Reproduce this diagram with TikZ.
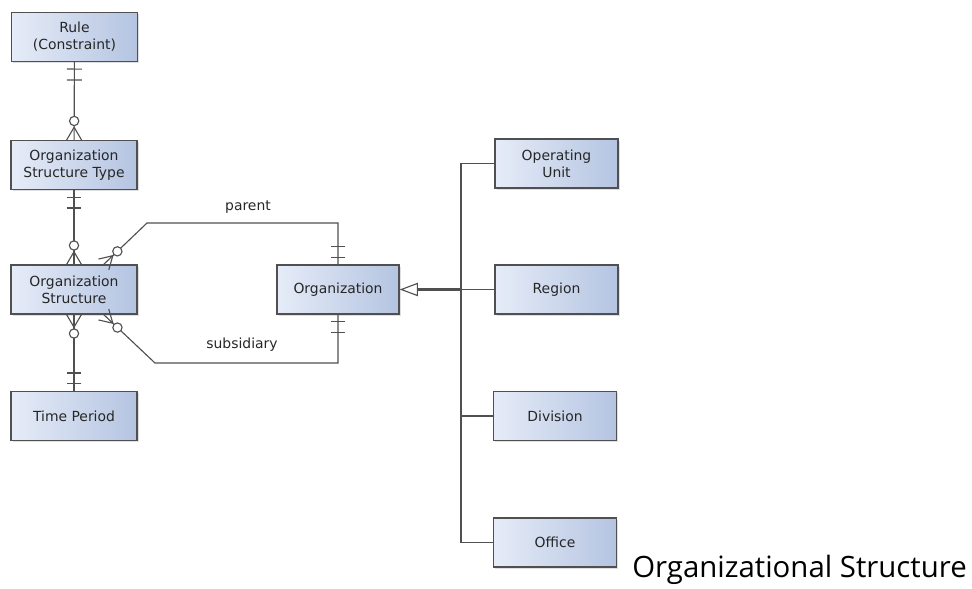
\documentclass[tikz,border=0pt]{standalone}
\usepackage{fontspec}
\setmainfont{DejaVu Sans}
\newfontfamily\capfont{Open Sans}
\usetikzlibrary{arrows.meta, shadows}
\definecolor{boxlight}{RGB}{230,236,248}
\definecolor{boxdark}{RGB}{180,196,225}
\definecolor{edgegray}{RGB}{80,80,80}
\definecolor{inktext}{RGB}{38,38,38}
% crow's foot with ring: zero or many
\pgfdeclarearrow{
  name = zeromany,
  setup code = {
    \pgfarrowssettipend{0pt}
    \pgfarrowssetlineend{0pt}
    \pgfarrowssetbackend{-17pt}
    \pgfarrowsupperhullpoint{0pt}{5.3pt}
    \pgfarrowsupperhullpoint{-17pt}{3.3pt}
  },
  drawing code = {
    \pgfsetdash{}{0pt}
    \pgfpathmoveto{\pgfqpoint{0pt}{5.3pt}}
    \pgfpathlineto{\pgfqpoint{-9pt}{0pt}}
    \pgfpathlineto{\pgfqpoint{0pt}{-5.3pt}}
    \pgfusepathqstroke
    \pgfpathcircle{\pgfqpoint{-13.5pt}{0pt}}{3.3pt}
    \pgfsetfillcolor{white}
    \pgfusepathqfillstroke
  }
}
% two bars: exactly one
\pgfdeclarearrow{
  name = onlyone,
  setup code = {
    \pgfarrowssettipend{0pt}
    \pgfarrowssetlineend{0pt}
    \pgfarrowssetbackend{-13pt}
    \pgfarrowsupperhullpoint{0pt}{5.3pt}
    \pgfarrowsupperhullpoint{-13pt}{5.3pt}
  },
  drawing code = {
    \pgfsetdash{}{0pt}
    \pgfpathmoveto{\pgfqpoint{-5pt}{5.3pt}}
    \pgfpathlineto{\pgfqpoint{-5pt}{-5.3pt}}
    \pgfpathmoveto{\pgfqpoint{-12.8pt}{5.3pt}}
    \pgfpathlineto{\pgfqpoint{-12.8pt}{-5.3pt}}
    \pgfusepathqstroke
  }
}
\tikzstyle{ebox}=[rectangle, draw=edgegray, line width=0.9pt,
  left color=boxlight, right color=boxdark, text=inktext,
  font=\fontsize{9.9}{12}\selectfont, align=center,
  minimum width=3.15cm, minimum height=1.22cm,
  drop shadow={shadow xshift=1.2pt, shadow yshift=-1.2pt, opacity=0.25}]
\tikzstyle{link}=[draw=edgegray, line width=0.8pt]
\tikzstyle{lbl}=[font=\fontsize{9.9}{12}\selectfont, text=inktext]

\begin{document}
\begin{tikzpicture}[x=0.025cm, y=-0.025cm]
    \useasboundingbox (0,0) rectangle (972,589);
    % left column
    \node[ebox] (rule) at (74.5,37) {Rule\\(Constraint)};
    \node[ebox] (ostype) at (74,165) {Organization\\Structure Type};
    \node[ebox] (ostruct) at (74,289.5) {Organization\\Structure};
    \node[ebox] (time) at (74,416) {Time Period};
    % middle
    \node[ebox, minimum width=3.05cm] (org) at (338,289.5) {Organization};
    % right column
    \node[ebox, minimum width=3.08cm] (opunit) at (556.5,163.5) {Operating\\Unit};
    \node[ebox, minimum width=3.08cm] (region) at (556.5,289.5) {Region};
    \node[ebox, minimum width=3.08cm] (division) at (555,416) {Division};
    \node[ebox, minimum width=3.08cm] (office) at (555,542.5) {Office};

    \draw[link, onlyone-zeromany] (rule) -- (ostype);
    \draw[link, onlyone-zeromany] (ostype) -- (ostruct);
    \draw[link, zeromany-onlyone] (ostruct) -- (time);

    % recursive links
    \coordinate (pbend) at (147,223);
    \coordinate (sbend) at (155,363);
    \draw[link, onlyone-zeromany] (org.north) |- (pbend)
      -- ([xshift=-0.85cm]ostruct.north east);
    \draw[link, onlyone-zeromany] (org.south) |- (sbend)
      -- ([xshift=-0.85cm]ostruct.south east);
    \node[lbl] (parent) at (248,207) {parent};
    \node[lbl] (subsid) at (242,345) {subsidiary};

    % generalization
    \coordinate (bus) at (461,289.5);
    \draw[link, line width=1.6pt, {Triangle[open, length=13pt, width=9.5pt, line width=0.8pt, fill=white]}-] (org.east) -- (bus);
    \draw[link] (bus) |- (opunit.west);
    \draw[link] (bus) |- (office.west);
    \draw[link] (bus) -- (region.west);
    \draw[link] (bus |- division.west) -- (division.west);

    \node[font=\capfont\fontsize{20.9}{24}\selectfont, anchor=base west,
      inner sep=0pt] (title) at (632,577) {Organizational Structure};
  \end{tikzpicture}
\end{document}
